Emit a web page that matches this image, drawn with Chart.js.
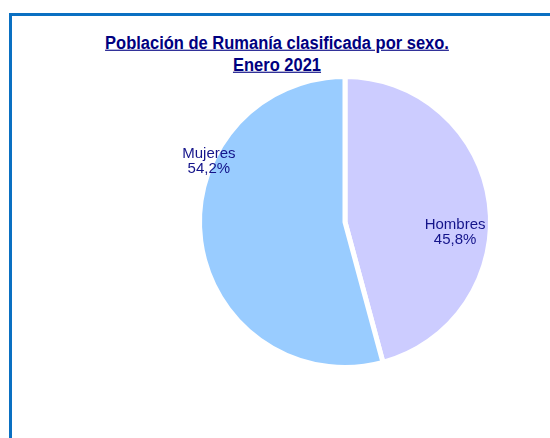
<!DOCTYPE html>
<html lang="es">
<head>
<meta charset="utf-8">
<title>Población de Rumanía clasificada por sexo</title>
<script src="https://cdn.jsdelivr.net/npm/chart.js@4/dist/chart.umd.min.js"></script>
<style>
  html, body { margin: 0; padding: 0; background: #fff; overflow: hidden; }
  body { width: 550px; height: 438px; position: relative; font-family: 'Liberation Sans', Arial, sans-serif; }
  .frame {
    position: absolute; left: 9px; top: 13px; right: 0; bottom: 0;
    border-left: 3px solid #0a70c2; border-top: 3px solid #0a70c2;
  }
  .title {
    position: absolute; left: 0; top: 31px; width: 554px;
    text-align: center; color: #000080; font-weight: bold;
    font-size: 16.5px; line-height: 20px; text-decoration: underline;
    transform: scaleY(1.1); transform-origin: top center;
  }
  .chart-box { position: absolute; left: 0; top: 0; width: 550px; height: 438px; }
</style>
</head>
<body>
<div class="frame"></div>
<div class="title">Población de Rumanía clasificada por sexo.<br>Enero 2021</div>
<div class="chart-box"><canvas id="pie"></canvas></div>
<script>
'use strict';

const categories = ['Hombres', 'Mujeres'];
const shares     = [45.8, 54.2];
const colors     = ['#CCCCFF', '#99CCFF'];

// label shift (px) from each slice's own centre point
const labelShift = [[38, 19.5], [-64, -70]];

const fmtPct = (v) => v.toFixed(1).replace('.', ',') + '%';

const sliceLabels = {
  id: 'sliceLabels',
  afterDatasetsDraw(chart) {
    const { ctx } = chart;
    const meta = chart.getDatasetMeta(0);
    ctx.save();
    ctx.font = '15px "Liberation Sans", Arial, sans-serif';
    ctx.fillStyle = '#14148a';
    ctx.textAlign = 'center';
    ctx.textBaseline = 'middle';
    meta.data.forEach((arc, i) => {
      const p = arc.tooltipPosition();
      const x = p.x + labelShift[i][0];
      const y = p.y + labelShift[i][1];
      ctx.fillText(categories[i], x, y - 7.5);
      ctx.fillText(fmtPct(shares[i]), x, y + 7.5);
    });
    ctx.restore();
  },
};

new Chart(document.getElementById('pie'), {
  type: 'pie',
  data: {
    labels: categories,
    datasets: [{
      data: shares,
      backgroundColor: colors,
      borderColor: '#ffffff',
      borderWidth: 5,
    }],
  },
  options: {
    responsive: true,
    maintainAspectRatio: false,
    animation: false,
    layout: { padding: { left: 197, right: 57, top: 74, bottom: 68 } },
    plugins: {
      legend: { display: false },
      tooltip: { enabled: false },
      title: { display: false },
    },
  },
  plugins: [sliceLabels],
});
</script>
</body>
</html>
